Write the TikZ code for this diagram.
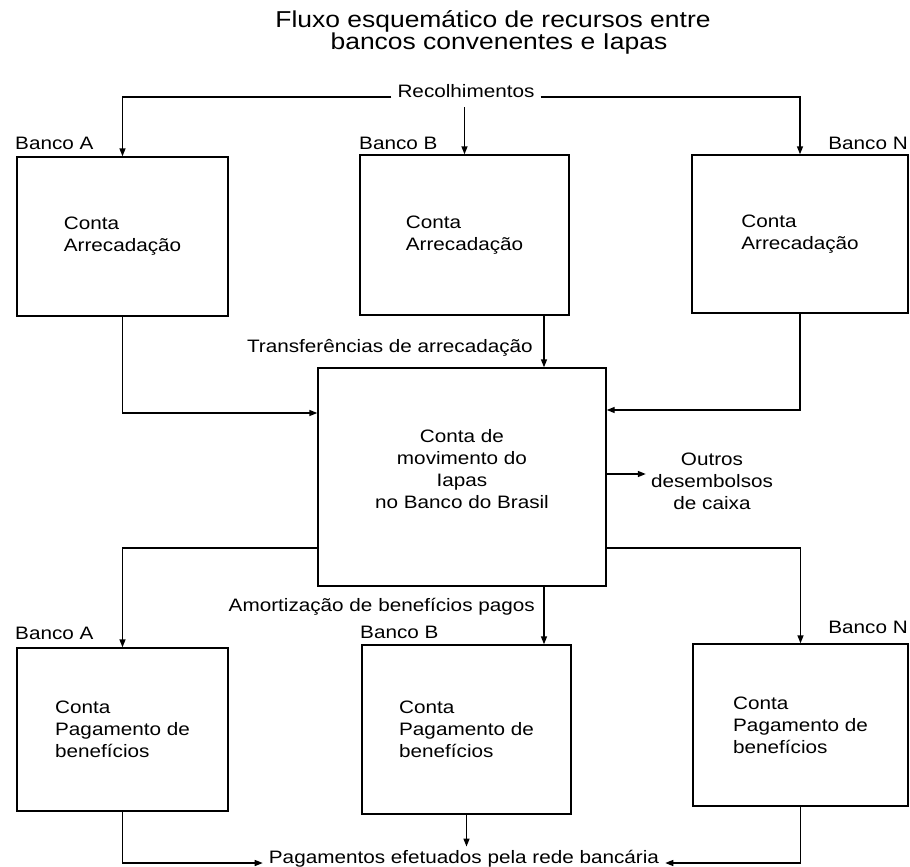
\documentclass[tikz,border=0pt]{standalone}
\usepackage{fontspec}
\setmainfont{Liberation Sans}[FakeStretch=1.15]
\usetikzlibrary{arrows.meta,calc}
\newcommand\labfont{\fontsize{18}{22}\selectfont}
\newcommand\ttlfont{\fontsize{23}{22}\selectfont}
\begin{document}
\begin{tikzpicture}[x=1pt,y=-1pt,
  box/.style={draw,line width=1.4pt,inner sep=0pt,align=left,font=\labfont},
  lab/.style={inner sep=0pt,font=\labfont},
  conn/.style={line width=1.4pt},
  arr/.style={conn,-{Triangle[length=8pt,width=6pt]}}]
\useasboundingbox (0,0) rectangle (910,867);
% title
\node[font=\ttlfont,inner sep=0pt,anchor=base] (t1) at (493,28) {Fluxo esquemático de recursos entre};
\node[font=\ttlfont,inner sep=0pt,anchor=base] (t2) at (499,50) {bancos convenentes e Iapas};
% top boxes
\node[box,minimum width=211pt,minimum height=159pt] (boxA) at (122.5,236.5) {Conta\\Arrecadação};
\node[box,minimum width=209pt,minimum height=160pt] (boxB) at (464.5,235) {Conta\\Arrecadação};
\node[box,minimum width=216pt,minimum height=158pt] (boxN) at (800,234) {Conta\\Arrecadação};
\node[lab,anchor=base west] (bA) at (15,149) {Banco A};
\node[lab,anchor=base west] (bB) at (359,149) {Banco B};
\node[lab,anchor=base east] (bN) at (908,149) {Banco N};
% center box
\node[draw,line width=1.4pt,minimum width=288pt,minimum height=218pt] (cbox) at (462,477) {};
\node[lab,align=center] (ctext) at (462,469) {Conta de\\movimento do\\Iapas\\no Banco do Brasil};
\node[lab,align=center,inner xsep=5pt] (outros) at (712,481) {Outros\\desembolsos\\de caixa};
% bottom boxes
\node[box,minimum width=211pt,minimum height=163pt] (boxA2) at (122.5,729.5) {Conta\\Pagamento de\\benefícios};
\node[box,minimum width=209pt,minimum height=169pt] (boxB2) at (466.5,729.5) {Conta\\Pagamento de\\benefícios};
\node[box,minimum width=215pt,minimum height=162pt] (boxN2) at (800.5,725) {Conta\\Pagamento de\\benefícios};
\node[lab,anchor=base west] (bA2) at (15,639) {Banco A};
\node[lab,anchor=base west] (bB2) at (360,638) {Banco B};
\node[lab,anchor=base east] (bN2) at (908,633) {Banco N};
% labels of flows
\node[lab,anchor=base,inner xsep=6pt,inner ysep=4pt] (rec) at (466,97) {Recolhimentos};
\node[lab,anchor=base east] (trf) at (533,352) {Transferências de arrecadação};
\node[lab,anchor=base east] (amo) at (535,611) {Amortização de benefícios pagos};
\node[lab,anchor=base,inner xsep=6pt,inner ysep=3pt] (pag) at (464,863) {Pagamentos efetuados pela rede bancária};
% helper coordinates
\coordinate (recb) at ($(rec.south)+(0,-6pt)$);
\coordinate (tx) at (544,0);
\coordinate (ya) at (0,413);
\coordinate (yn) at (0,410);
\coordinate (yl) at (0,548);
\coordinate (oy) at (0,474);
% connectors
\draw[arr] (rec.base west) -| (boxA.north);
\draw[arr] (rec.base east) -| (boxN.north);
\draw[arr] (recb -| boxB.north) -- (boxB.north);
\draw[arr] (boxA.south) |- (cbox.west |- ya);
\draw[arr] (boxB.south -| tx) -- (cbox.north -| tx);
\draw[arr] (boxN.south) |- (cbox.east |- yn);
\draw[arr] (cbox.east |- oy) -- (outros.west |- oy);
\draw[arr] (cbox.west |- yl) -| (boxA2.north);
\draw[arr] (cbox.south -| tx) -- (boxB2.north -| tx);
\draw[arr] (cbox.east |- yl) -| (boxN2.north);
\draw[arr] (boxA2.south) |- (pag.base west);
\draw[arr] (boxB2.south) -- (boxB2.south |- pag.north);
\draw[arr] (boxN2.south) |- (pag.base east);
\end{tikzpicture}
\end{document}
